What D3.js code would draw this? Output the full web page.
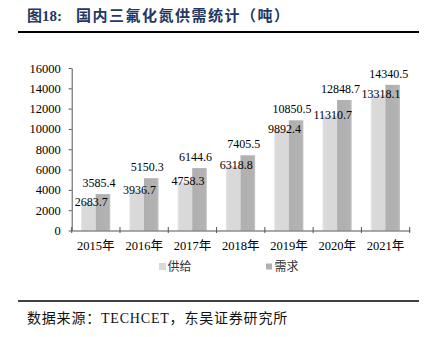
<!DOCTYPE html>
<html><head><meta charset="utf-8">
<script src="https://cdn.jsdelivr.net/npm/d3@7"></script>
<style>
body{margin:0;background:#fff;}
svg{display:block;}
.serif{font-family:"Liberation Serif","Times New Roman","DejaVu Serif","Noto Sans CJK SC",serif;}
</style></head>
<body>
<svg id="c" width="431" height="337"></svg>
<script>
const years = ["2015年","2016年","2017年","2018年","2019年","2020年","2021年"];
const seriesNames = ["供给","需求"];
const supply = [2683.7,3936.7,4758.3,6318.8,9892.4,11310.7,13318.1];
const demand = [3585.4,5150.3,6144.6,7405.5,10850.5,12848.7,14340.5];
const yTicks = [0,2000,4000,6000,8000,10000,12000,14000,16000];
const colors = ["#d9d9d9","#b1b1b1"];

const svg = d3.select("#c");

const defs = svg.append("defs");
const g0 = defs.append("linearGradient").attr("id","gS").attr("x1","0").attr("x2","1");
g0.append("stop").attr("offset","0").attr("stop-color","#e8e8e8");
g0.append("stop").attr("offset","0.12").attr("stop-color","#dadada");
g0.append("stop").attr("offset","1").attr("stop-color","#d8d8d8");
const g1 = defs.append("linearGradient").attr("id","gD").attr("x1","0").attr("x2","1");
g1.append("stop").attr("offset","0").attr("stop-color","#afafaf");
g1.append("stop").attr("offset","0.88").attr("stop-color","#b3b3b3");
g1.append("stop").attr("offset","1").attr("stop-color","#c6c6c6");
const fills = ["url(#gS)","url(#gD)"];

// Title
const title = svg.append("text").attr("class","serif").attr("x",27).attr("y",21)
  .attr("fill","#1f3864").attr("font-weight","bold").attr("font-size",15);
title.append("tspan").text("图18:");
title.append("tspan").attr("x",76).attr("letter-spacing",1.5).text("国内三氟化氮供需统计（吨）");

svg.append("line").attr("x1",18).attr("x2",419).attr("y1",32).attr("y2",32)
  .attr("stroke","#000").attr("stroke-width",1.8);

// Scales
const x0 = d3.scaleBand().domain(years).range([71.7,409.7]).padding(0);
const x1 = d3.scaleBand().domain(seriesNames).range([9.3, x0.bandwidth()-9.7]).padding(0);
const y = d3.scaleLinear().domain([0,16000]).range([230.5,68]);

// y axis
const yAx = svg.append("g").attr("transform","translate(71.7,0)")
  .call(d3.axisLeft(y).tickValues(yTicks).tickFormat(d3.format("d")).tickSize(3).tickSizeOuter(0).tickPadding(8));
yAx.attr("font-family",null);
yAx.select(".domain").attr("stroke","#555");
yAx.selectAll(".tick line").attr("stroke","#555");
yAx.selectAll("text").attr("class","serif").attr("font-size",12.5).attr("fill","#000");

// bars
const groups = svg.append("g").selectAll("g").data(years).join("g")
  .attr("transform",d=>`translate(${x0(d)},0)`);
const data = [supply,demand];
groups.each(function(yr,i){
  const g = d3.select(this);
  seriesNames.forEach((s,j)=>{
    const v = data[j][i];
    g.append("rect").attr("x",x1(s)).attr("width",x1.bandwidth())
      .attr("y",y(v)).attr("height",y(0)-y(v)).attr("fill",fills[j]);
  });
});

// x axis
const xAx = svg.append("g").attr("transform","translate(0,230.5)")
  .call(d3.axisBottom(x0).tickSize(0).tickPadding(11));
xAx.attr("font-family",null);
xAx.select(".domain").attr("stroke","#555");
xAx.selectAll("text").attr("class","serif").attr("font-size",12.5).attr("fill","#000");
const bounds = years.map(d=>x0(d)).concat([x0.range()[1]]);
svg.append("g").selectAll("line").data(bounds).join("line")
  .attr("x1",d=>d).attr("x2",d=>d).attr("y1",227).attr("y2",233)
  .attr("stroke","#555").attr("stroke-width",1);

// value labels
groups.each(function(yr,i){
  const g = d3.select(this);
  const vs = supply[i], vd = demand[i];
  g.append("text").attr("class","serif").attr("x",x1("供给")+x1.bandwidth()/2+3).attr("y",y(vs)+3)
    .attr("text-anchor","middle").attr("font-size",12)
    .text(vs.toFixed(1));
  g.append("text").attr("class","serif").attr("x",x1("需求")+x1.bandwidth()/2-4).attr("y",y(vd)-7)
    .attr("text-anchor","middle").attr("font-size",12)
    .text(vd.toFixed(1));
});

// legend
const legX = [159,266];
const leg = svg.append("g").selectAll("g").data(seriesNames).join("g")
  .attr("transform",(d,i)=>`translate(${legX[i]},263)`);
leg.append("rect").attr("width",(d,i)=>i===0?7:6).attr("height",(d,i)=>i===0?7:6)
  .attr("y",(d,i)=>i===0?0:0.5).attr("fill",(d,i)=>colors[i]);
leg.append("text").attr("class","serif").attr("x",8.5).attr("y",7.5)
  .attr("font-size",12).attr("fill","#333").text(d=>d);

// footer
svg.append("line").attr("x1",18).attr("x2",419).attr("y1",301).attr("y2",301)
  .attr("stroke","#000").attr("stroke-width",1.5);
svg.append("text").attr("class","serif").attr("x",27).attr("y",323)
  .attr("font-size",14).attr("fill","#111").attr("letter-spacing",0.8)
  .text("数据来源：TECHCET，东吴证券研究所");
</script>
</body></html>
